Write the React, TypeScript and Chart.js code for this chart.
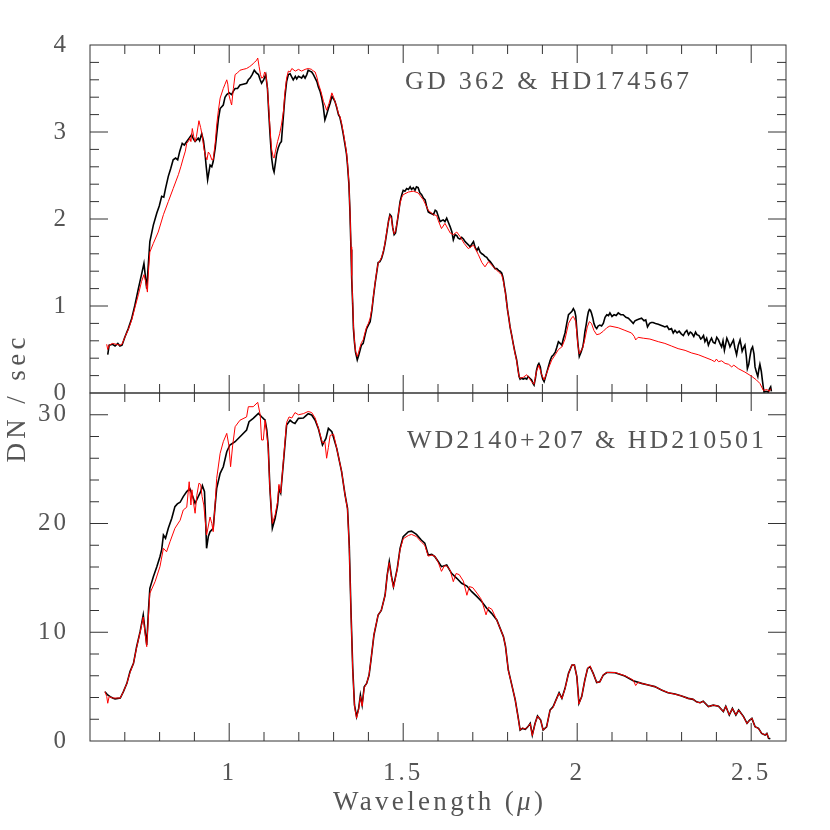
import React, { useEffect, useRef } from 'react';
import { Chart, registerables } from 'chart.js';

Chart.register(...registerables);

const FONT = 'Liberation Serif';
const TEXT_COLOR = '#555555';
const FRAME_COLOR = '#333333';

const X_MIN = 0.6;
const X_MAX = 2.6;
const xTickLabels = [1, 1.5, 2, 2.5];
const topYTicks = [0, 1, 2, 3, 4];
const bottomYTicks = [0, 10, 20, 30];
const TOP_Y_MAX = 4;
const BOTTOM_Y_MAX = 32;

const topLabel = 'GD 362 & HD174567';
const bottomLabel = 'WD2140+207 & HD210501';
const xTitle = 'Wavelength (μ)';
const yTitle = 'DN / sec';

// Top panel: GD 362 (black) and HD174567 (red)  [wavelength µ, DN/sec]
const topBlack = [
  [0.651, 0.44], [0.655, 0.55], [0.665, 0.56], [0.672, 0.54], [0.68, 0.57], [0.686, 0.54], [0.692, 0.55],
  [0.7, 0.64], [0.71, 0.74], [0.72, 0.86], [0.729, 1.01], [0.739, 1.2], [0.748, 1.36], [0.755, 1.49],
  [0.763, 1.2], [0.772, 1.74], [0.782, 1.93], [0.792, 2.07], [0.799, 2.15], [0.806, 2.26], [0.812, 2.25],
  [0.817, 2.35], [0.825, 2.49], [0.832, 2.58], [0.839, 2.68], [0.846, 2.7], [0.852, 2.68], [0.858, 2.78],
  [0.865, 2.87], [0.871, 2.85], [0.878, 2.89], [0.885, 2.93], [0.892, 2.97], [0.897, 2.92], [0.902, 2.89],
  [0.911, 2.93], [0.915, 2.9], [0.921, 2.98], [0.926, 2.9], [0.93, 2.77], [0.934, 2.6], [0.938, 2.45],
  [0.945, 2.62], [0.95, 2.6], [0.954, 2.66], [0.96, 2.82], [0.964, 2.97], [0.969, 3.15], [0.974, 3.27],
  [0.983, 3.31], [0.988, 3.4], [0.993, 3.43], [1.0, 3.45], [1.007, 3.43], [1.012, 3.47], [1.017, 3.5],
  [1.024, 3.5], [1.031, 3.54], [1.04, 3.55], [1.05, 3.56], [1.055, 3.6], [1.06, 3.62], [1.066, 3.66],
  [1.072, 3.71], [1.078, 3.68], [1.084, 3.66], [1.089, 3.6], [1.093, 3.56], [1.099, 3.6], [1.105, 3.66],
  [1.11, 3.5], [1.114, 3.2], [1.118, 2.93], [1.122, 2.7], [1.126, 2.58], [1.129, 2.54], [1.133, 2.65],
  [1.136, 2.74], [1.141, 2.82], [1.146, 2.87], [1.15, 2.89], [1.156, 3.2], [1.16, 3.4], [1.165, 3.58],
  [1.17, 3.66], [1.175, 3.67], [1.18, 3.63], [1.184, 3.6], [1.19, 3.64], [1.194, 3.61], [1.199, 3.64],
  [1.204, 3.63], [1.208, 3.62], [1.213, 3.65], [1.218, 3.62], [1.223, 3.66], [1.227, 3.71], [1.232, 3.7],
  [1.237, 3.69], [1.242, 3.66], [1.247, 3.62], [1.252, 3.58], [1.256, 3.52], [1.261, 3.47], [1.266, 3.39],
  [1.27, 3.3], [1.275, 3.14], [1.28, 3.2], [1.285, 3.27], [1.29, 3.33], [1.295, 3.41], [1.3, 3.38],
  [1.304, 3.35], [1.309, 3.28], [1.314, 3.2], [1.318, 3.17], [1.323, 3.08], [1.328, 2.97], [1.333, 2.85],
  [1.337, 2.75], [1.34, 2.62], [1.344, 2.4], [1.347, 2.08], [1.35, 1.65], [1.352, 1.32], [1.355, 1.0],
  [1.357, 0.74], [1.36, 0.58], [1.363, 0.47], [1.368, 0.38], [1.372, 0.43], [1.376, 0.49], [1.38, 0.55],
  [1.385, 0.57], [1.39, 0.66], [1.395, 0.74], [1.4, 0.78], [1.405, 0.82], [1.41, 0.95], [1.414, 1.09],
  [1.419, 1.25], [1.424, 1.39], [1.428, 1.5], [1.433, 1.51], [1.438, 1.55], [1.443, 1.62], [1.448, 1.72],
  [1.453, 1.85], [1.458, 1.98], [1.462, 2.05], [1.466, 2.03], [1.47, 1.9], [1.474, 1.82], [1.478, 1.84],
  [1.483, 1.97], [1.487, 2.08], [1.491, 2.2], [1.496, 2.28], [1.5, 2.33], [1.505, 2.32], [1.51, 2.35],
  [1.515, 2.34], [1.52, 2.37], [1.524, 2.34], [1.529, 2.36], [1.534, 2.33], [1.538, 2.37], [1.543, 2.36],
  [1.548, 2.3], [1.553, 2.28], [1.558, 2.24], [1.563, 2.22], [1.567, 2.15], [1.572, 2.08], [1.577, 2.07],
  [1.582, 2.06], [1.587, 2.05], [1.592, 2.1], [1.596, 2.09], [1.601, 2.03], [1.606, 1.97], [1.61, 1.98],
  [1.615, 1.99], [1.62, 1.97], [1.625, 2.01], [1.63, 1.96], [1.635, 1.91], [1.64, 1.85], [1.644, 1.76],
  [1.649, 1.82], [1.654, 1.81], [1.658, 1.78], [1.663, 1.77], [1.668, 1.79], [1.673, 1.77], [1.678, 1.74],
  [1.683, 1.72], [1.688, 1.7], [1.692, 1.68], [1.697, 1.71], [1.702, 1.74], [1.707, 1.67], [1.712, 1.64],
  [1.716, 1.67], [1.721, 1.62], [1.726, 1.6], [1.73, 1.59], [1.735, 1.57], [1.74, 1.56], [1.745, 1.53],
  [1.75, 1.51], [1.754, 1.49], [1.759, 1.46], [1.764, 1.43], [1.769, 1.43], [1.774, 1.41], [1.778, 1.4],
  [1.783, 1.38], [1.786, 1.34], [1.788, 1.3], [1.791, 1.22], [1.794, 1.15], [1.797, 1.05], [1.8, 0.95],
  [1.804, 0.85], [1.807, 0.76], [1.812, 0.66], [1.816, 0.57], [1.821, 0.47], [1.826, 0.38], [1.83, 0.27],
  [1.833, 0.19], [1.836, 0.16], [1.839, 0.17], [1.845, 0.16], [1.85, 0.17], [1.855, 0.16], [1.859, 0.19],
  [1.864, 0.17], [1.869, 0.15], [1.873, 0.11], [1.876, 0.09], [1.88, 0.17], [1.883, 0.26], [1.887, 0.32],
  [1.89, 0.34], [1.894, 0.3], [1.897, 0.22], [1.901, 0.16], [1.905, 0.13], [1.91, 0.2], [1.917, 0.3],
  [1.922, 0.37], [1.927, 0.42], [1.932, 0.44], [1.937, 0.47], [1.941, 0.52], [1.946, 0.59], [1.951, 0.57],
  [1.956, 0.55], [1.96, 0.62], [1.965, 0.69], [1.97, 0.8], [1.975, 0.9], [1.98, 0.92], [1.985, 0.94],
  [1.989, 0.97], [1.993, 0.94], [1.996, 0.88], [1.999, 0.72], [2.002, 0.57], [2.006, 0.42], [2.011, 0.47],
  [2.016, 0.53], [2.019, 0.6], [2.022, 0.7], [2.026, 0.79], [2.029, 0.87], [2.032, 0.93], [2.035, 0.96],
  [2.038, 0.95], [2.041, 0.92], [2.045, 0.86], [2.048, 0.8], [2.052, 0.76], [2.056, 0.74], [2.06, 0.77],
  [2.065, 0.78], [2.07, 0.77], [2.075, 0.8], [2.08, 0.87], [2.085, 0.9], [2.09, 0.89], [2.094, 0.92],
  [2.1, 0.88], [2.106, 0.9], [2.112, 0.89], [2.118, 0.92], [2.125, 0.9], [2.132, 0.9], [2.14, 0.87],
  [2.147, 0.86], [2.154, 0.83], [2.161, 0.8], [2.166, 0.83], [2.171, 0.84], [2.178, 0.85], [2.185, 0.86],
  [2.192, 0.83], [2.197, 0.84], [2.202, 0.76], [2.208, 0.8], [2.213, 0.81], [2.218, 0.81], [2.225, 0.8],
  [2.233, 0.79], [2.24, 0.78], [2.246, 0.77], [2.252, 0.76], [2.258, 0.77], [2.264, 0.73], [2.271, 0.74],
  [2.276, 0.69], [2.281, 0.72], [2.287, 0.69], [2.293, 0.71], [2.299, 0.68], [2.305, 0.66], [2.31, 0.7],
  [2.315, 0.72], [2.32, 0.67], [2.325, 0.7], [2.329, 0.69], [2.335, 0.65], [2.34, 0.7], [2.344, 0.67],
  [2.35, 0.66], [2.355, 0.62], [2.358, 0.63], [2.363, 0.66], [2.367, 0.59], [2.372, 0.63], [2.377, 0.55],
  [2.382, 0.6], [2.386, 0.63], [2.391, 0.58], [2.396, 0.57], [2.401, 0.64], [2.406, 0.61], [2.41, 0.57],
  [2.415, 0.53], [2.419, 0.6], [2.423, 0.49], [2.427, 0.57], [2.43, 0.63], [2.435, 0.58], [2.439, 0.53],
  [2.444, 0.57], [2.449, 0.61], [2.453, 0.52], [2.458, 0.44], [2.463, 0.55], [2.468, 0.61], [2.471, 0.55],
  [2.474, 0.48], [2.478, 0.52], [2.482, 0.55], [2.486, 0.42], [2.489, 0.28], [2.493, 0.33], [2.496, 0.41],
  [2.5, 0.5], [2.504, 0.53], [2.508, 0.45], [2.511, 0.3], [2.515, 0.24], [2.519, 0.19], [2.522, 0.27],
  [2.525, 0.33], [2.529, 0.25], [2.532, 0.15], [2.535, 0.06], [2.537, 0.01], [2.543, 0.02], [2.549, 0.01],
  [2.553, 0.05], [2.556, 0.07], [2.558, 0.02],
];

const topRed = [
  [0.648, 0.56], [0.651, 0.5], [0.655, 0.55], [0.665, 0.57], [0.675, 0.56], [0.686, 0.55], [0.692, 0.56],
  [0.7, 0.64], [0.71, 0.73], [0.72, 0.84], [0.729, 0.98], [0.739, 1.13], [0.748, 1.28], [0.755, 1.36],
  [0.76, 1.28], [0.765, 1.16], [0.768, 1.4], [0.772, 1.62], [0.782, 1.72], [0.796, 1.85], [0.811, 2.05],
  [0.825, 2.2], [0.839, 2.35], [0.854, 2.51], [0.861, 2.6], [0.868, 2.7], [0.874, 2.78], [0.878, 2.87],
  [0.884, 2.9], [0.887, 2.93], [0.89, 2.89], [0.894, 3.04], [0.898, 2.95], [0.902, 2.89], [0.906, 2.95],
  [0.913, 3.13], [0.918, 3.05], [0.922, 2.97], [0.927, 2.82], [0.932, 2.72], [0.936, 2.68], [0.94, 2.77],
  [0.945, 2.74], [0.95, 2.68], [0.954, 2.68], [0.96, 2.88], [0.964, 3.08], [0.969, 3.25], [0.974, 3.39],
  [0.983, 3.5], [0.988, 3.55], [0.993, 3.6], [0.996, 3.55], [0.999, 3.43], [1.004, 3.35], [1.007, 3.31],
  [1.012, 3.5], [1.017, 3.66], [1.024, 3.68], [1.031, 3.71], [1.04, 3.72], [1.05, 3.73], [1.058, 3.75],
  [1.065, 3.77], [1.072, 3.8], [1.078, 3.82], [1.082, 3.85], [1.086, 3.75], [1.09, 3.66], [1.093, 3.62],
  [1.098, 3.63], [1.102, 3.69], [1.105, 3.67], [1.11, 3.5], [1.114, 3.25], [1.118, 3.0], [1.122, 2.8],
  [1.126, 2.72], [1.129, 2.7], [1.133, 2.78], [1.139, 2.89], [1.145, 2.98], [1.15, 3.08], [1.156, 3.24],
  [1.16, 3.45], [1.165, 3.62], [1.17, 3.7], [1.175, 3.69], [1.18, 3.73], [1.19, 3.7], [1.199, 3.72],
  [1.208, 3.7], [1.218, 3.72], [1.227, 3.73], [1.237, 3.72], [1.242, 3.7], [1.247, 3.69], [1.252, 3.63],
  [1.256, 3.56], [1.264, 3.46], [1.271, 3.35], [1.276, 3.3], [1.28, 3.25], [1.287, 3.33], [1.295, 3.45],
  [1.3, 3.4], [1.304, 3.35], [1.309, 3.29], [1.314, 3.21], [1.318, 3.18], [1.323, 3.1], [1.328, 2.99],
  [1.333, 2.87], [1.337, 2.77], [1.34, 2.64], [1.344, 2.42], [1.347, 2.1], [1.35, 1.68], [1.352, 1.35],
  [1.355, 1.03], [1.357, 0.78], [1.36, 0.6], [1.363, 0.48], [1.368, 0.42], [1.372, 0.47], [1.376, 0.53],
  [1.38, 0.58], [1.385, 0.61], [1.39, 0.69], [1.395, 0.76], [1.4, 0.8], [1.405, 0.86], [1.41, 0.97],
  [1.414, 1.1], [1.419, 1.26], [1.424, 1.4], [1.428, 1.49], [1.433, 1.52], [1.438, 1.56], [1.443, 1.63],
  [1.448, 1.73], [1.453, 1.86], [1.458, 1.98], [1.462, 2.04], [1.466, 2.01], [1.47, 1.89], [1.474, 1.83],
  [1.478, 1.86], [1.483, 1.98], [1.487, 2.08], [1.491, 2.18], [1.496, 2.25], [1.5, 2.28], [1.515, 2.31],
  [1.529, 2.32], [1.543, 2.3], [1.558, 2.22], [1.572, 2.1], [1.587, 2.05], [1.596, 2.04], [1.601, 1.98],
  [1.61, 1.89], [1.62, 1.95], [1.635, 1.84], [1.644, 1.82], [1.654, 1.85], [1.663, 1.8], [1.675, 1.72],
  [1.687, 1.66], [1.702, 1.7], [1.716, 1.59], [1.726, 1.5], [1.735, 1.45], [1.745, 1.51], [1.759, 1.45],
  [1.774, 1.39], [1.783, 1.36], [1.788, 1.28], [1.791, 1.21], [1.794, 1.14], [1.797, 1.04], [1.8, 0.95],
  [1.804, 0.85], [1.807, 0.76], [1.812, 0.66], [1.816, 0.57], [1.821, 0.46], [1.826, 0.37], [1.83, 0.26],
  [1.833, 0.19], [1.836, 0.17], [1.845, 0.18], [1.855, 0.21], [1.864, 0.16], [1.869, 0.13], [1.876, 0.1],
  [1.883, 0.25], [1.89, 0.32], [1.897, 0.22], [1.905, 0.15], [1.917, 0.28], [1.927, 0.38], [1.937, 0.44],
  [1.946, 0.5], [1.956, 0.53], [1.965, 0.62], [1.975, 0.8], [1.985, 0.87], [1.989, 0.88], [1.996, 0.82],
  [2.002, 0.55], [2.006, 0.45], [2.016, 0.52], [2.022, 0.62], [2.029, 0.76], [2.035, 0.82], [2.041, 0.8],
  [2.048, 0.72], [2.056, 0.67], [2.065, 0.68], [2.075, 0.71], [2.085, 0.75], [2.094, 0.77], [2.118, 0.75],
  [2.137, 0.72], [2.156, 0.69], [2.164, 0.65], [2.168, 0.61], [2.175, 0.64], [2.19, 0.63], [2.209, 0.62],
  [2.233, 0.59], [2.252, 0.57], [2.271, 0.54], [2.29, 0.51], [2.31, 0.49], [2.329, 0.46], [2.348, 0.44],
  [2.367, 0.41], [2.386, 0.38], [2.395, 0.36], [2.4, 0.39], [2.406, 0.36], [2.415, 0.37], [2.425, 0.34],
  [2.435, 0.33], [2.444, 0.3], [2.45, 0.32], [2.463, 0.28], [2.482, 0.24], [2.502, 0.19], [2.515, 0.15],
  [2.525, 0.11], [2.535, 0.03], [2.545, 0.04], [2.552, 0.02], [2.556, 0.05],
];

// Bottom panel: WD2140+207 (black) and HD210501 (red)
const bottomBlack = [
  [0.643, 4.54], [0.65, 4.25], [0.658, 4.08], [0.665, 3.95], [0.672, 3.86], [0.68, 3.92], [0.687, 3.95],
  [0.696, 4.54], [0.706, 5.3], [0.715, 6.38], [0.725, 7.14], [0.734, 8.67], [0.744, 10.05], [0.753, 11.59],
  [0.758, 10.2], [0.763, 8.83], [0.768, 12.0], [0.772, 14.04], [0.782, 15.11], [0.792, 16.03], [0.801, 16.95],
  [0.806, 17.6], [0.811, 18.94], [0.817, 18.64], [0.825, 19.56], [0.835, 20.48], [0.844, 21.55], [0.851, 21.8],
  [0.859, 21.95], [0.868, 22.47], [0.878, 22.93], [0.887, 23.2], [0.894, 22.6], [0.902, 21.86], [0.911, 22.47],
  [0.918, 22.93], [0.923, 23.48], [0.929, 22.93], [0.932, 20.5], [0.935, 17.72], [0.94, 18.8], [0.945, 19.25],
  [0.954, 19.56], [0.96, 21.8], [0.964, 23.23], [0.974, 24.61], [0.983, 25.22], [0.993, 26.6], [1.002, 27.22],
  [1.017, 27.52], [1.036, 28.14], [1.05, 28.6], [1.057, 29.36], [1.069, 29.67], [1.084, 30.13], [1.093, 29.82],
  [1.1, 29.6], [1.103, 29.52], [1.108, 28.6], [1.112, 27.2], [1.117, 23.2], [1.124, 19.56], [1.132, 20.48],
  [1.139, 21.7], [1.143, 23.2], [1.148, 22.8], [1.156, 25.68], [1.165, 29.06], [1.175, 29.5], [1.182, 29.3],
  [1.189, 29.2], [1.199, 29.67], [1.213, 29.7], [1.22, 29.9], [1.227, 30.1], [1.237, 29.98], [1.247, 29.5],
  [1.256, 28.75], [1.262, 28.0], [1.268, 27.22], [1.278, 27.83], [1.285, 28.75], [1.295, 28.44], [1.309, 26.91],
  [1.323, 24.77], [1.333, 22.62], [1.34, 21.4], [1.345, 18.0], [1.35, 11.9], [1.355, 6.68], [1.36, 3.31],
  [1.366, 2.24], [1.372, 3.0], [1.377, 4.23], [1.382, 3.31], [1.388, 4.99], [1.395, 5.3], [1.402, 6.07],
  [1.408, 7.6], [1.416, 9.75], [1.428, 11.59], [1.437, 12.0], [1.448, 13.42], [1.454, 15.26], [1.46, 16.49],
  [1.466, 15.2], [1.472, 14.19], [1.483, 15.88], [1.491, 17.7], [1.5, 18.79], [1.515, 19.25], [1.524, 19.3],
  [1.538, 19.0], [1.552, 18.48], [1.562, 18.2], [1.572, 17.1], [1.582, 17.16], [1.591, 16.95], [1.601, 16.49],
  [1.61, 16.03], [1.625, 16.18], [1.639, 15.42], [1.654, 14.96], [1.668, 14.5], [1.683, 14.25], [1.697, 13.73],
  [1.712, 13.27], [1.726, 12.81], [1.74, 12.2], [1.754, 11.74], [1.769, 11.13], [1.778, 10.4], [1.788, 9.6],
  [1.794, 8.7], [1.802, 6.53], [1.811, 5.3], [1.822, 3.77], [1.83, 2.24], [1.836, 1.01], [1.843, 1.16],
  [1.851, 1.07], [1.858, 1.3], [1.865, 1.63], [1.871, 0.55], [1.879, 1.63], [1.886, 2.3], [1.895, 1.93],
  [1.902, 1.01], [1.912, 1.3], [1.922, 2.85], [1.931, 3.16], [1.937, 3.62], [1.948, 4.45], [1.956, 3.93],
  [1.965, 4.84], [1.975, 6.22], [1.985, 6.99], [1.992, 6.99], [1.999, 5.92], [2.005, 3.46], [2.013, 4.08],
  [2.022, 5.61], [2.03, 6.68], [2.037, 6.84], [2.046, 6.22], [2.056, 5.37], [2.065, 5.45], [2.075, 6.07],
  [2.085, 6.3], [2.094, 6.3], [2.109, 6.28], [2.137, 5.98], [2.161, 5.55], [2.185, 5.3], [2.204, 5.15],
  [2.223, 5.0], [2.242, 4.69], [2.261, 4.44], [2.281, 4.32], [2.3, 4.13], [2.319, 3.92], [2.333, 3.83],
  [2.343, 3.6], [2.353, 3.52], [2.362, 3.65], [2.377, 3.16], [2.391, 3.3], [2.406, 3.2], [2.42, 2.7],
  [2.427, 3.2], [2.437, 2.39], [2.446, 3.0], [2.456, 2.39], [2.464, 2.85], [2.478, 2.24], [2.488, 1.63],
  [2.495, 1.9], [2.502, 2.08], [2.511, 1.32], [2.521, 1.16], [2.53, 0.7], [2.54, 0.55], [2.545, 0.7],
  [2.55, 0.25], [2.555, 0.2],
];

const bottomRed = [
  [0.643, 4.54], [0.648, 4.1], [0.651, 3.47], [0.655, 4.08], [0.665, 3.95], [0.68, 3.95], [0.687, 3.95],
  [0.696, 4.54], [0.706, 5.3], [0.715, 6.3], [0.725, 7.14], [0.734, 8.6], [0.744, 10.0], [0.753, 11.4],
  [0.758, 10.0], [0.763, 8.67], [0.768, 11.5], [0.772, 13.58], [0.787, 14.65], [0.801, 16.03], [0.811, 17.72],
  [0.82, 17.4], [0.83, 18.33], [0.844, 19.56], [0.859, 20.3], [0.868, 21.24], [0.878, 21.5], [0.885, 23.84],
  [0.89, 21.7], [0.893, 23.1], [0.897, 22.0], [0.902, 20.94], [0.907, 22.6], [0.913, 23.7], [0.918, 23.6],
  [0.922, 22.5], [0.927, 21.7], [0.935, 18.94], [0.945, 20.6], [0.95, 20.0], [0.954, 19.25], [0.96, 22.0],
  [0.964, 24.15], [0.974, 26.45], [0.983, 27.52], [0.993, 28.29], [0.999, 27.2], [1.004, 25.22], [1.01, 27.2],
  [1.017, 28.9], [1.031, 29.5], [1.05, 29.8], [1.055, 30.74], [1.069, 30.74], [1.082, 31.14], [1.089, 30.0],
  [1.093, 27.68], [1.098, 27.68], [1.103, 29.5], [1.108, 28.2], [1.112, 27.0], [1.117, 23.2], [1.124, 20.0],
  [1.132, 20.8], [1.139, 22.0], [1.143, 23.6], [1.148, 22.8], [1.156, 25.9], [1.165, 29.3], [1.172, 29.8],
  [1.18, 29.7], [1.189, 30.2], [1.199, 30.0], [1.213, 30.1], [1.227, 30.3], [1.237, 30.2], [1.247, 29.7],
  [1.256, 28.8], [1.268, 27.4], [1.275, 27.5], [1.28, 26.0], [1.285, 27.0], [1.29, 28.1], [1.3, 28.2],
  [1.309, 26.9], [1.323, 24.8], [1.333, 22.6], [1.34, 21.3], [1.345, 17.8], [1.35, 11.7], [1.355, 6.5],
  [1.36, 3.2], [1.366, 2.1], [1.372, 2.9], [1.377, 4.1], [1.382, 3.2], [1.388, 4.9], [1.395, 5.3],
  [1.402, 6.1], [1.408, 7.6], [1.416, 9.8], [1.428, 11.6], [1.437, 12.0], [1.448, 13.4], [1.454, 15.2],
  [1.46, 16.4], [1.466, 15.1], [1.472, 14.1], [1.483, 15.8], [1.491, 17.6], [1.5, 18.6], [1.515, 18.9],
  [1.524, 19.0], [1.538, 18.8], [1.552, 18.3], [1.562, 18.0], [1.572, 17.0], [1.582, 17.1], [1.591, 17.0],
  [1.601, 16.4], [1.61, 15.6], [1.618, 16.1], [1.625, 16.1], [1.635, 15.7], [1.644, 14.65], [1.652, 15.4],
  [1.661, 15.3], [1.673, 14.7], [1.683, 13.4], [1.69, 14.2], [1.7, 14.1], [1.712, 13.6], [1.725, 13.0],
  [1.738, 11.6], [1.745, 12.3], [1.755, 12.1], [1.769, 11.1], [1.778, 10.4], [1.788, 9.6], [1.794, 8.7],
  [1.802, 6.5], [1.811, 5.3], [1.822, 3.77], [1.83, 2.2], [1.836, 1.0], [1.843, 1.2], [1.851, 1.1],
  [1.858, 1.3], [1.865, 1.6], [1.871, 0.5], [1.879, 1.6], [1.886, 2.3], [1.895, 1.9], [1.902, 1.0],
  [1.912, 1.3], [1.922, 2.8], [1.931, 3.1], [1.937, 3.6], [1.948, 4.4], [1.956, 3.9], [1.965, 4.8],
  [1.975, 6.2], [1.985, 7.0], [1.992, 7.0], [1.999, 5.9], [2.005, 3.4], [2.013, 4.1], [2.022, 5.6],
  [2.03, 6.7], [2.037, 6.9], [2.046, 6.2], [2.056, 5.4], [2.065, 5.4], [2.075, 6.1], [2.085, 6.3],
  [2.094, 6.3], [2.109, 6.3], [2.137, 6.0], [2.161, 5.6], [2.168, 5.1], [2.175, 5.4], [2.185, 5.3],
  [2.204, 5.15], [2.223, 5.0], [2.242, 4.7], [2.261, 4.45], [2.281, 4.3], [2.3, 4.15], [2.319, 3.9],
  [2.333, 3.85], [2.343, 3.6], [2.353, 3.5], [2.362, 3.65], [2.377, 3.15], [2.391, 3.3], [2.406, 3.2],
  [2.42, 2.7], [2.427, 3.2], [2.437, 2.4], [2.446, 3.0], [2.456, 2.4], [2.464, 2.85], [2.478, 2.2],
  [2.488, 1.6], [2.495, 1.9], [2.502, 2.1], [2.511, 1.3], [2.521, 1.15], [2.53, 0.7], [2.54, 0.55],
  [2.545, 0.7], [2.55, 0.25],
];

const toPoints = (arr: number[][]) => arr.map(([x, y]) => ({ x, y }));

// Draws text pieces (some italic) spread to a target width, like the monospaced plot font.
function spacedParts(ctx: any, parts: { t: string; italic: boolean }[], size: number, x: number, y: number, width: number, align: 'left' | 'center') {
  ctx.letterSpacing = '0px';
  let w0 = 0;
  let n = 0;
  const widths: number[] = [];
  for (const p of parts) {
    ctx.font = `${p.italic ? 'italic ' : ''}${size}px "${FONT}"`;
    const w = ctx.measureText(p.t).width;
    widths.push(w);
    w0 += w;
    n += [...p.t].length;
  }
  const ls = n > 1 ? (width - w0) / (n - 1) : 0;
  let cx = align === 'center' ? x - width / 2 : x;
  ctx.textAlign = 'left';
  parts.forEach((p, i) => {
    ctx.font = `${p.italic ? 'italic ' : ''}${size}px "${FONT}"`;
    ctx.letterSpacing = ls + 'px';
    ctx.fillText(p.t, cx, y);
    cx += widths[i] + ls * [...p.t].length;
  });
  ctx.letterSpacing = '0px';
}

function splitItalic(text: string, italicChar: string) {
  const idx = text.indexOf(italicChar);
  if (idx < 0) return [{ t: text, italic: false }];
  return [
    { t: text.slice(0, idx), italic: false },
    { t: italicChar, italic: true },
    { t: text.slice(idx + italicChar.length), italic: false },
  ].filter((p) => p.t.length > 0);
}

const spacingPlugin = {
  id: 'spacing',
  beforeDraw(chart: any) {
    chart.ctx.letterSpacing = '3px';
  },
};

function framePlugin(yMax: number, yStepsMinor: number, majorEvery: number) {
  return {
    id: 'frame',
    beforeDatasetsDraw(chart: any) {
      const { ctx, chartArea: a, scales } = chart;
      ctx.save();
      ctx.strokeStyle = FRAME_COLOR;
      ctx.lineWidth = 1;
      ctx.strokeRect(a.left, a.top, a.right - a.left, a.bottom - a.top);
      ctx.beginPath();
      for (let i = 7; i <= 25; i++) {
        const px = scales.x.getPixelForValue(i / 10);
        const len = i % 5 === 0 ? 18 : 9;
        ctx.moveTo(px, a.top); ctx.lineTo(px, a.top + len);
        ctx.moveTo(px, a.bottom); ctx.lineTo(px, a.bottom - len);
      }
      const step = yMax / yStepsMinor;
      for (let i = 1; i < yStepsMinor; i++) {
        const py = scales.y.getPixelForValue(i * step);
        const len = i % majorEvery === 0 ? 18 : 9;
        ctx.moveTo(a.left, py); ctx.lineTo(a.left + len, py);
        ctx.moveTo(a.right, py); ctx.lineTo(a.right - len, py);
      }
      ctx.stroke();
      ctx.restore();
    },
  };
}

function textPlugin(label: string, lx: number, ly: number, labelWidth: number, withTitles: boolean) {
  return {
    id: 'texts',
    afterDraw(chart: any) {
      const { ctx, chartArea: a, scales } = chart;
      ctx.save();
      ctx.fillStyle = TEXT_COLOR;
      ctx.textBaseline = 'alphabetic';
      spacedParts(ctx, [{ t: label, italic: false }], 26, scales.x.getPixelForValue(lx), scales.y.getPixelForValue(ly), labelWidth, 'left');
      if (withTitles) {
        spacedParts(ctx, splitItalic(xTitle, 'μ'), 27, (a.left + a.right) / 2, 810, 210, 'center');
        ctx.translate(25, a.top + 7);
        ctx.rotate(-Math.PI / 2);
        spacedParts(ctx, [{ t: yTitle, italic: false }], 27, 0, 0, 125, 'center');
      }
      ctx.restore();
    },
  };
}

const tickFont = { family: FONT, size: 25 };

function baseOptions(padding: any) {
  return {
    animation: false,
    responsive: false,
    events: [],
    layout: { padding },
    plugins: { legend: { display: false }, tooltip: { enabled: false } },
    elements: { point: { radius: 0 }, line: { tension: 0 } },
  };
}

function datasets(black: number[][], red: number[][]) {
  return [
    { data: toPoints(red), borderColor: '#ff0000', borderWidth: 1, pointRadius: 0, order: 0 },
    { data: toPoints(black), borderColor: '#000000', borderWidth: 1.6, pointRadius: 0, order: 1 },
  ];
}

function yScale(max: number, ticks: number[]) {
  return {
    type: 'linear',
    min: 0,
    max,
    afterFit: (s: any) => { s.width = 90; },
    afterBuildTicks: (s: any) => { s.ticks = ticks.map((v) => ({ value: v })); },
    grid: { display: false },
    border: { display: false },
    ticks: { padding: 13, color: TEXT_COLOR, font: tickFont, callback: (v: any) => String(v) },
  };
}

export default function App() {
  const topRef = useRef<HTMLCanvasElement>(null);
  const botRef = useRef<HTMLCanvasElement>(null);

  useEffect(() => {
    const top = new Chart(topRef.current as any, {
      type: 'line',
      data: { datasets: datasets(topBlack, topRed) as any },
      options: {
        ...baseOptions({ left: 0, top: 45, right: 44, bottom: 437 }),
        scales: {
          x: { type: 'linear', min: X_MIN, max: X_MAX, display: false },
          y: yScale(TOP_Y_MAX, topYTicks),
        },
      } as any,
      plugins: [spacingPlugin, framePlugin(TOP_Y_MAX, 20, 5), textPlugin(topLabel, 1.505, 3.49, 284, false)],
    });
    const bottom = new Chart(botRef.current as any, {
      type: 'line',
      data: { datasets: datasets(bottomBlack, bottomRed) as any },
      options: {
        ...baseOptions({ left: 0, top: 393, right: 44, bottom: 0 }),
        scales: {
          x: {
            type: 'linear',
            min: X_MIN,
            max: X_MAX,
            position: 'bottom',
            afterFit: (s: any) => { s.height = 89; },
            afterBuildTicks: (s: any) => { s.ticks = xTickLabels.map((v) => ({ value: v })); },
            grid: { display: false },
            border: { display: false },
            ticks: { padding: 9, maxRotation: 0, autoSkip: false, color: TEXT_COLOR, font: tickFont, callback: (v: any) => String(v) },
          },
          y: yScale(BOTTOM_Y_MAX, bottomYTicks),
        },
      } as any,
      plugins: [spacingPlugin, framePlugin(BOTTOM_Y_MAX, 16, 5), textPlugin(bottomLabel, 1.511, 26.9, 357, true)],
    });
    return () => {
      top.destroy();
      bottom.destroy();
    };
  }, []);

  return (
    <div style={{ position: 'absolute', left: 0, top: 0, width: 830, height: 830, background: '#ffffff' }}>
      <canvas ref={topRef} width={830} height={830} style={{ position: 'absolute', left: 0, top: 0 }} />
      <canvas ref={botRef} width={830} height={830} style={{ position: 'absolute', left: 0, top: 0 }} />
    </div>
  );
}
